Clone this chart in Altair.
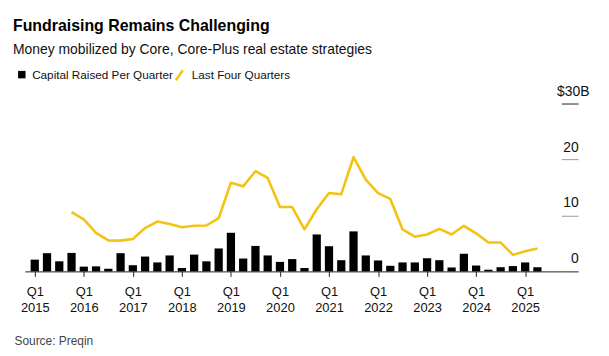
import altair as alt
import pandas as pd

quarters = [f"{y} Q{q}" for y in range(2015, 2026) for q in range(1, 5)][:42]

capital_raised = [
    2.1, 3.25, 1.8, 3.3,
    0.85, 0.9, 0.47, 3.25,
    1.1, 2.65, 1.6, 2.85,
    0.6, 3.0, 1.8, 4.1,
    6.9, 2.3, 4.55, 2.85,
    1.7, 2.2, 0.6, 6.6,
    4.5, 2.0, 7.15, 2.85,
    1.95, 1.0, 1.6, 1.6,
    2.35, 2.0, 0.7, 3.15,
    1.05, 0.3, 0.75, 0.95,
    1.6, 0.75,
]

last_four_quarters = [
    None, None, None, 10.6,
    9.3, 6.9, 5.55, 5.5,
    5.8, 7.75, 8.9, 8.45,
    7.9, 8.15, 8.2, 9.5,
    15.85, 15.2, 17.9, 16.7,
    11.5, 11.5, 7.5, 11.1,
    14.0, 13.8, 20.4, 16.4,
    14.0, 12.95, 7.5, 6.2,
    6.6, 7.6, 6.6, 8.15,
    6.8, 5.15, 5.15, 2.95,
    3.6, 4.1,
]

year_ticks = list(range(2015, 2026))
y_ticks = [0, 10, 20, 30]

BAR_LABEL = "Capital Raised Per Quarter"
LINE_LABEL = "Last Four Quarters"
YELLOW = "#f3c313"
FONT = "Liberation Sans"


def qpos(label):
    y, q = label.split(" Q")
    return int(y) + (int(q) - 1) / 4


bars_df = pd.DataFrame({
    "quarter": quarters,
    "t": [qpos(q) for q in quarters],
    "value": capital_raised,
    "series": BAR_LABEL,
})
line_df = pd.DataFrame({
    "quarter": quarters,
    "t": [qpos(q) for q in quarters],
    "value": last_four_quarters,
    "series": LINE_LABEL,
}).dropna()

x_enc = alt.X(
    "t:Q",
    scale=alt.Scale(domain=[2014.9, 2025.635], nice=False, zero=False),
    axis=alt.Axis(
        values=year_ticks,
        labelExpr="['Q1', format(datum.value, 'd')]",
        labelFontSize=13,
        labelLineHeight=16.5,
        labelColor="#111",
        labelPadding=9,
        labelFlush=False,
        tickSize=5,
        tickColor="#222",
        domainColor="#222",
        domainWidth=1,
        grid=False,
        title="Source: Preqin",
        titleFontSize=12,
        titleFontWeight="normal",
        titleColor="#444",
        titleAnchor="start",
        titleAlign="left",
        titleBaseline="alphabetic",
        titleX=-11,
        titleY=74,
    ),
)

y_enc = alt.Y(
    "value:Q",
    scale=alt.Scale(domain=[0, 30], nice=False),
    axis=alt.Axis(
        orient="right",
        values=y_ticks,
        labelExpr="datum.value == 30 ? '$30B' : format(datum.value, 'd')",
        labelAlign="right",
        labelBaseline="alphabetic",
        labelOffset=-8.5,
        labelPadding={"condition": {"test": "datum.value == 30", "value": 11}, "value": 0},
        labelFontSize=14,
        labelColor="#111",
        labelFlush=False,
        tickSize=17,
        tickColor={"condition": {"test": "datum.value == 0 || datum.value == 30", "value": "#222"}, "value": "#999"},
        domain=False,
        grid=False,
        title=None,
    ),
)

bars = alt.Chart(bars_df).mark_bar(size=8.3).encode(
    x=x_enc,
    y=y_enc,
    fill=alt.Fill(
        "series:N",
        scale=alt.Scale(domain=[BAR_LABEL], range=["#000000"]),
        legend=alt.Legend(
            orient="none",
            legendX=-9,
            legendY=-35,
            title=None,
            padding=0,
            symbolType="square",
            symbolSize=56,
            symbolStrokeWidth=0,
            labelFontSize=11.8,
            labelColor="#111",
            labelOffset=4.5,
        ),
    ),
)

line = alt.Chart(line_df).mark_line(strokeWidth=2.6, strokeJoin="round").encode(
    x=x_enc,
    y=y_enc,
    stroke=alt.Stroke(
        "series:N",
        scale=alt.Scale(domain=[LINE_LABEL], range=[YELLOW]),
        legend=alt.Legend(
            orient="none",
            legendX=149,
            legendY=-35,
            title=None,
            padding=0,
            symbolType="M-0.7,1L0.7,-1",
            symbolSize=100,
            symbolStrokeWidth=2.5,
            labelFontSize=11.8,
            labelColor="#111",
            labelOffset=6,
        ),
    ),
)

chart = alt.layer(bars, line).properties(
    width=540,
    height=169,
    autosize=alt.AutoSizeParams(type="none"),
    padding={"left": 17, "top": 95, "right": 40, "bottom": 82},
    title=alt.TitleParams(
        text="Fundraising Remains Challenging",
        subtitle="Money mobilized by Core, Core-Plus real estate strategies",
        anchor="start",
        frame="group",
        dx=-12,
        offset=12,
        fontSize=16,
        fontWeight="bold",
        color="#000",
        subtitleFontSize=14,
        subtitleColor="#111",
        subtitlePadding=9,
    ),
).configure(
    font=FONT,
).configure_view(stroke=None)

chart.save("out.html", embed_options={"renderer": "svg", "actions": False})
